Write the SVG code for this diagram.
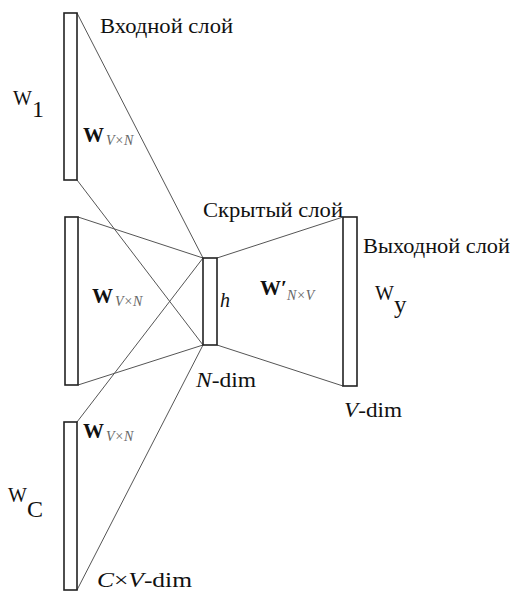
<svg xmlns="http://www.w3.org/2000/svg" width="512" height="592" viewBox="0 0 512 592" font-family="'Liberation Serif', 'DejaVu Serif', 'Times New Roman', serif">
<style>
.box{fill:#fff;stroke:#222;stroke-width:1.6}
.ln{stroke:#555;stroke-width:1;fill:none}
text{font-family:'Liberation Serif','DejaVu Serif','Times New Roman',serif;fill:#111}
.lbl{font-size:20px}
.W{font-size:21px;font-weight:bold}
.sub{font-size:14px;font-style:italic;fill:#666}
.it{font-style:italic}
.big{font-size:20px}
</style>
<rect width="512" height="592" fill="#fff"/>
<g id="connectors">
<line class="ln" x1="77" y1="13" x2="203" y2="258"/>
<line class="ln" x1="77" y1="180" x2="203" y2="345"/>
<line class="ln" x1="78" y1="217" x2="203" y2="258"/>
<line class="ln" x1="78" y1="385" x2="203" y2="345"/>
<line class="ln" x1="77" y1="422" x2="203" y2="258"/>
<line class="ln" x1="77" y1="590" x2="203" y2="345"/>
<line class="ln" x1="217" y1="258" x2="343" y2="217"/>
<line class="ln" x1="217" y1="345" x2="343" y2="386"/>
</g>
<g id="input1">
<rect class="box" x="64" y="13" width="13" height="167"/>
<text class="lbl" x="100" y="33" textLength="133" lengthAdjust="spacingAndGlyphs">Входной слой</text>
<text class="big" x="13" y="105">W<tspan font-size="24" dy="12">1</tspan></text>
<text x="83" y="142"><tspan class="W">W</tspan><tspan class="sub" dx="2" dy="3">V×N</tspan></text>
</g>
<g id="input2">
<rect class="box" x="65" y="217" width="13" height="168"/>
<text x="92" y="303"><tspan class="W">W</tspan><tspan class="sub" dx="2" dy="3">V×N</tspan></text>
</g>
<g id="inputC">
<rect class="box" x="64" y="422" width="13" height="168"/>
<text x="83" y="438"><tspan class="W">W</tspan><tspan class="sub" dx="2" dy="3">V×N</tspan></text>
<text class="big" x="8" y="502">W<tspan font-size="24" dy="15">C</tspan></text>
<text class="lbl" x="97" y="587" textLength="95" lengthAdjust="spacingAndGlyphs"><tspan class="it">C</tspan>×<tspan class="it">V</tspan>-dim</text>
</g>
<g id="hidden">
<rect class="box" x="203" y="258" width="14" height="87"/>
<text class="lbl" x="203" y="217" textLength="140" lengthAdjust="spacingAndGlyphs">Скрытый слой</text>
<text class="lbl it" x="220" y="307">h</text>
<text class="lbl" x="196" y="387" textLength="60" lengthAdjust="spacingAndGlyphs"><tspan class="it">N</tspan>-dim</text>
<text x="260" y="295"><tspan class="W">W</tspan><tspan class="W" font-weight="normal">′</tspan><tspan class="sub" dy="5">N×V</tspan></text>
</g>
<g id="output">
<rect class="box" x="343" y="217" width="14" height="169"/>
<text class="lbl" x="363" y="253" textLength="147" lengthAdjust="spacingAndGlyphs">Выходной слой</text>
<text class="big" x="375" y="300">W<tspan font-size="25" dy="13">y</tspan></text>
<text class="lbl" x="344" y="417" textLength="58" lengthAdjust="spacingAndGlyphs"><tspan class="it">V</tspan>-dim</text>
</g>
</svg>
